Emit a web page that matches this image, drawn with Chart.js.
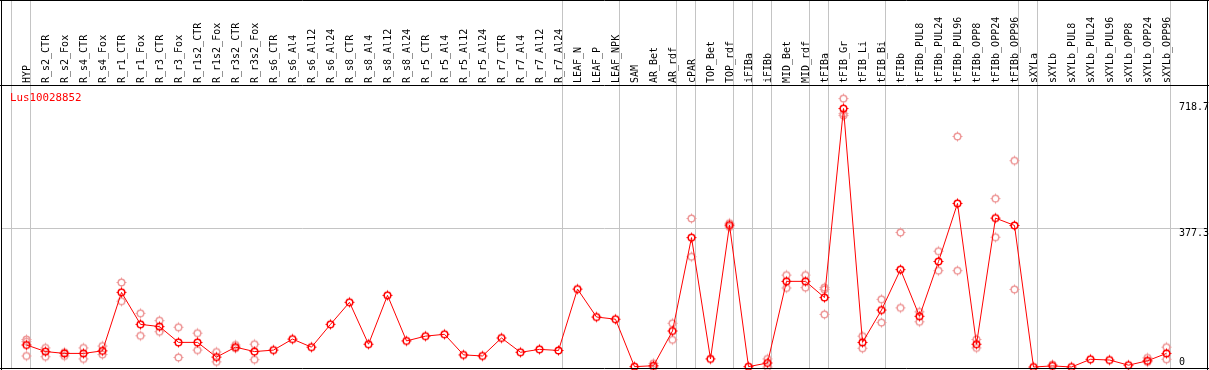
<!DOCTYPE html>
<html>
<head>
<meta charset="utf-8">
<script src="https://cdn.jsdelivr.net/npm/chart.js@4.4.1/dist/chart.umd.min.js"></script>
<style>
  body { margin: 0; background: #fff; }
  #wrap { width: 1209px; height: 370px; }
</style>
</head>
<body>
<div id="wrap"><canvas id="expr" width="1209" height="370"></canvas></div>
<script>
"use strict";

const geneName = "Lus10028852";

const samples = [
    "HYP", "R_s2_CTR", "R_s2_Fox", "R_s4_CTR", "R_s4_Fox", "R_r1_CTR", "R_r1_Fox",
    "R_r3_CTR", "R_r3_Fox", "R_r1s2_CTR", "R_r1s2_Fox", "R_r3s2_CTR", "R_r3s2_Fox",
    "R_s6_CTR", "R_s6_Al4", "R_s6_Al12", "R_s6_Al24", "R_s8_CTR", "R_s8_Al4",
    "R_s8_Al12", "R_s8_Al24", "R_r5_CTR", "R_r5_Al4", "R_r5_Al12", "R_r5_Al24",
    "R_r7_CTR", "R_r7_Al4", "R_r7_Al12", "R_r7_Al24", "LEAF_N", "LEAF_P", "LEAF_NPK",
    "SAM", "AR_Bet", "AR_rdf", "cPAR", "TOP_Bet", "TOP_rdf", "iFIBa", "iFIBb",
    "MID_Bet", "MID_rdf", "tFIBa", "tFIB_Gr", "tFIB_Li", "tFIB_Bi", "tFIBb",
    "tFIBb_PUL8", "tFIBb_PUL24", "tFIBb_PUL96", "tFIBb_OPP8", "tFIBb_OPP24", "tFIBb_OPP96",
    "sXYLa", "sXYLb", "sXYLb_PUL8", "sXYLb_PUL24", "sXYLb_PUL96", "sXYLb_OPP8",
    "sXYLb_OPP24", "sXYLb_OPP96"
];

// mean expression per sample
const meanValues = [
    60, 42, 37, 37, 44, 203, 116, 110, 67, 67, 27, 54, 42,
    46, 76, 54, 116, 176, 62, 195, 71, 84, 89, 33, 30,
    79, 40, 48, 45, 212, 136, 130,
    1, 3.5, 98, 352, 22, 386, 1, 11,
    233, 233, 189, 703, 67, 155, 265,
    138, 287, 445, 62, 405, 385,
    0, 3, 0, 21, 19, 5, 17, 37
];

// replicates (null = none shown)
const rep1 = [
    75, 52, 40, 52, 57, 230, 146, 126, 108, 92, 41, 60, 62,
    null, null, null, null, null, null, null, null, null, null, null, null,
    null, null, null, null, null, null, null,
    null, 10, 119, 404, null, 391, null, 22,
    250, 250, 216, 730, 84, 184, 366,
    150, 315, 627, 75, 458, 561,
    null, 7, null, null, null, null, 25, 54
];
const rep2 = [
    69, 28, 30, 22, 34, 179, 85, 96, 26, 46, 14, 51, 20,
    null, null, null, null, null, null, null, null, null, null, null, null,
    null, null, null, null, null, null, null,
    null, 0, 74, 300, null, 381, null, 0,
    215, 216, 211, 689, 51, 121, 161,
    123, 262, 262, 52, 353, 211,
    null, null, null, null, null, null, 14, 21
];
const rep3 = [
    30, null, null, null, null, null, null, null, null, null, null, null, null,
    null, null, null, null, null, null, null, null, null, null, null, null,
    null, null, null, null, null, null, null,
    null, null, null, null, null, null, null, null,
    null, null, 143, 684, null, null, null,
    null, null, null, null, null, null,
    null, null, null, null, null, null, null, null
];

// group separators: drawn after these sample indexes
const groupEnds = [-1, 0, 28, 31, 34, 35, 37, 38, 39, 41, 42, 45, 52, 53, 60];
const axisLabels = ["0", "377.3", "718.7"];
const gridValues = [377.3];

function makeMarker(color) {
    var c = document.createElement("canvas");
    c.width = 13; c.height = 13;
    var g = c.getContext("2d");
    g.strokeStyle = color;
    g.lineWidth = 1.5;
    g.beginPath();
    g.arc(6.5, 6.5, 3.3, 0, Math.PI * 2);
    g.stroke();
    g.lineWidth = 1;
    g.beginPath();
    g.moveTo(6.5, 1.5); g.lineTo(6.5, 3);
    g.moveTo(6.5, 10); g.lineTo(6.5, 11.5);
    g.moveTo(1.5, 6.5); g.lineTo(3, 6.5);
    g.moveTo(10, 6.5); g.lineTo(11.5, 6.5);
    g.stroke();
    return c;
}

const meanMarker = makeMarker("#ff0000");
const repMarker = makeMarker("#ee9a9a");

const framePlugin = {
    id: "frame",
    beforeDatasetsDraw: function (chart) {
        var ctx = chart.ctx;
        var xs = chart.scales.x, ys = chart.scales.y;
        var step = xs.getPixelForValue(1) - xs.getPixelForValue(0);
        ctx.save();
        ctx.strokeStyle = "#c4c4c4";
        ctx.lineWidth = 1;
        gridValues.forEach(function (v) {
            var y = Math.round(ys.getPixelForValue(v)) + 0.5;
            ctx.beginPath();
            ctx.moveTo(1, y); ctx.lineTo(1208, y);
            ctx.stroke();
        });
        groupEnds.forEach(function (i) {
            var x = Math.round(xs.getPixelForValue(0) + step * (i + 0.2)) + 0.5;
            ctx.beginPath();
            ctx.moveTo(x, 0); ctx.lineTo(x, 369);
            ctx.stroke();
        });
        ctx.restore();
    },
    afterDraw: function (chart) {
        var ctx = chart.ctx;
        var xs = chart.scales.x, ys = chart.scales.y;
        ctx.save();
        ctx.strokeStyle = "#000";
        ctx.lineWidth = 1;
        ctx.beginPath();
        ctx.moveTo(0, 0.5); ctx.lineTo(1209, 0.5);
        ctx.moveTo(0, 85.5); ctx.lineTo(1209, 85.5);
        ctx.moveTo(0, 368.5); ctx.lineTo(1209, 368.5);
        ctx.moveTo(1.5, 0); ctx.lineTo(1.5, 370);
        ctx.moveTo(1207.5, 0); ctx.lineTo(1207.5, 370);
        ctx.stroke();

        ctx.font = "10px 'DejaVu Sans Mono'";
        ctx.fillStyle = "#000";
        ctx.textAlign = "left";
        ctx.textBaseline = "alphabetic";
        samples.forEach(function (s, i) {
            ctx.save();
            ctx.translate(xs.getPixelForValue(i) + 3.8, 83);
            ctx.rotate(-Math.PI / 2);
            ctx.fillText(s, 0, 0);
            ctx.restore();
        });

        axisLabels.forEach(function (t) {
            var v = parseFloat(t);
            var y = ys.getPixelForValue(v);
            ctx.fillText(t, 1179, v === 0 ? y - 2 : y + 7.5);
        });

        ctx.fillStyle = "#ff0000";
        ctx.font = "10.8px 'DejaVu Sans Mono'";
        ctx.fillText(geneName, 10, 101);
        ctx.restore();
    }
};

function repSet(data) {
    return {
        data: data,
        showLine: false,
        pointStyle: repMarker,
        pointRadius: 6,
        clip: false,
        order: 2
    };
}

new Chart(document.getElementById("expr"), {
    type: "line",
    data: {
        labels: samples,
        datasets: [
            {
                data: meanValues,
                borderColor: "#ff0000",
                borderWidth: 1,
                pointStyle: meanMarker,
                pointRadius: 6,
                tension: 0,
                clip: false,
                order: 1
            },
            repSet(rep1),
            repSet(rep2),
            repSet(rep3)
        ]
    },
    options: {
        responsive: false,
        animation: false,
        devicePixelRatio: 1,
        layout: {
            autoPadding: false,
            padding: { left: 17, right: 33, top: 85, bottom: 1 }
        },
        scales: {
            x: { display: false, offset: true },
            y: { display: false, min: -5.4, max: 767 }
        },
        plugins: {
            legend: { display: false },
            tooltip: { enabled: false }
        }
    },
    plugins: [framePlugin]
});
</script>
</body>
</html>
